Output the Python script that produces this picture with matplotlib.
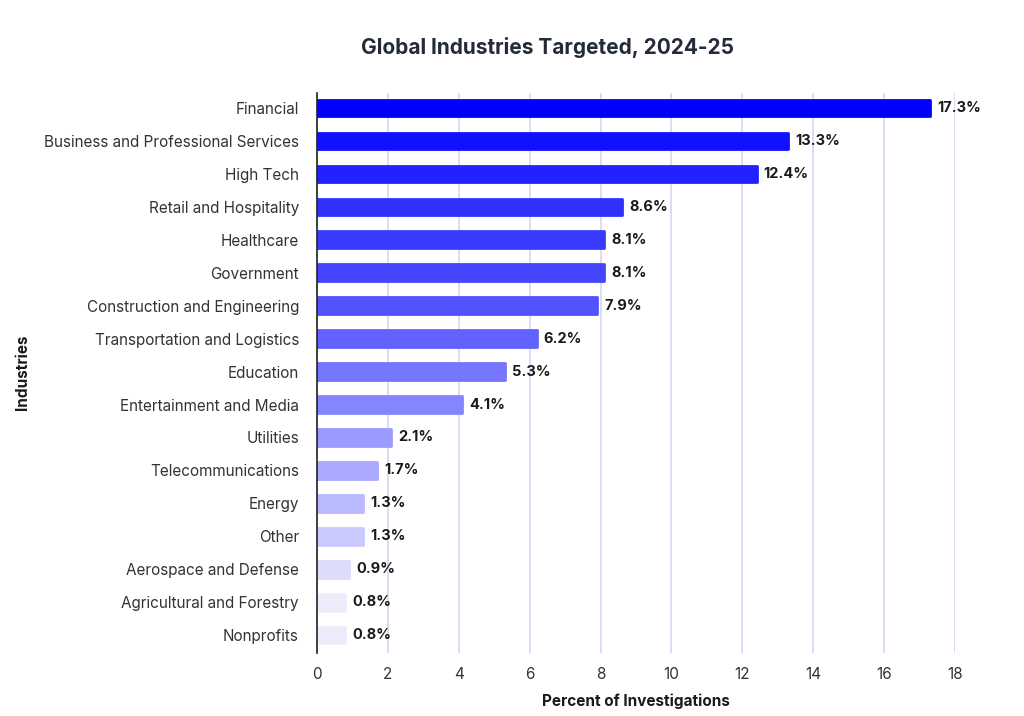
import matplotlib; matplotlib.use("Agg")
import matplotlib.pyplot as plt

plt.rcParams["font.family"] = ["Inter", "DejaVu Sans"]

industries = ["Financial", "Business and Professional Services", "High Tech",
              "Retail and Hospitality", "Healthcare", "Government",
              "Construction and Engineering", "Transportation and Logistics",
              "Education", "Entertainment and Media", "Utilities",
              "Telecommunications", "Energy", "Other", "Aerospace and Defense",
              "Agricultural and Forestry", "Nonprofits"]
percent = [17.3, 13.3, 12.4, 8.6, 8.1, 8.1, 7.9, 6.2, 5.3, 4.1, 2.1,
           1.7, 1.3, 1.3, 0.9, 0.8, 0.8]
colors = ["#0000ff", "#1111ff", "#2222ff", "#3030ff", "#3b3bff", "#4646ff",
          "#5252ff", "#6262ff", "#7575ff", "#8585ff", "#9a9aff", "#a9a9ff",
          "#b9b9ff", "#cacaff", "#dcdcfd", "#ececfd", "#ececfd"]

fig = plt.figure(figsize=(10.24, 7.16), dpi=100)
ax = fig.add_axes([0.3096, 0.0875, 0.6230, 0.7825])

y = range(len(industries))
ax.barh(y, percent, height=0.5, color=colors, edgecolor=colors,
        linewidth=2, joinstyle="round", zorder=3)
for i, v in enumerate(percent):
    ax.text(v + 0.2, i, f"{v}%", va="center", ha="left", fontsize=10.5,
            fontweight="bold", color="#1a1a1a", zorder=4)

ax.set_ylim(len(industries) - 0.45, -0.45)
ax.set_xlim(0, 18)
ax.set_xticks(range(0, 19, 2))
ax.set_yticks(list(y))
ax.set_yticklabels(industries, fontsize=11, color="#333333")
ax.tick_params(axis="x", labelsize=11, labelcolor="#333333", length=0, pad=10)
ax.tick_params(axis="y", length=0, pad=13)
ax.grid(axis="x", color="#d6d6f0", linewidth=1.2, zorder=0)
for s in ["top", "right", "bottom"]:
    ax.spines[s].set_visible(False)
ax.spines["left"].set_color("#222222")
ax.spines["left"].set_linewidth(1.2)
ax.spines["left"].set_zorder(5)

ax.set_xlabel("Percent of Investigations", fontsize=11, fontweight="bold",
              color="#1a1a1a", labelpad=8)
fig.text(0.022, 0.48, "Industries", rotation=90, va="center", ha="center",
         fontsize=11, fontweight="bold", color="#1a1a1a")
fig.text(0.535, 0.934, "Global Industries Targeted, 2024-25", ha="center",
         va="center", fontsize=15, fontweight="bold", color="#232a38")

fig.savefig("out.png", dpi=100, facecolor="white")
